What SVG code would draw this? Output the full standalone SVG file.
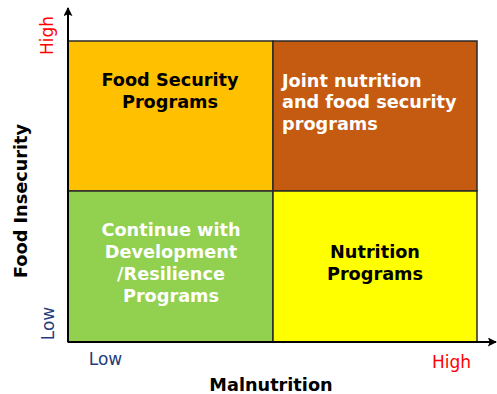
<svg xmlns="http://www.w3.org/2000/svg" width="497" height="394" viewBox="0 0 497 394">
  <style>
    .q { stroke: #2a2a2a; stroke-width: 1.5; }
    .t { font-family: "DejaVu Sans", Verdana, sans-serif; font-weight: bold; font-size: 17.7px; }
    .lbl { font-family: "DejaVu Sans", Verdana, sans-serif; font-size: 17px; }
    .axis { stroke: #000; stroke-width: 2; fill: none; }
  </style>
  <defs>
    <marker id="arr" viewBox="0 0 10 10" refX="9" refY="5" markerWidth="4.5" markerHeight="4.5" orient="auto" markerUnits="strokeWidth">
      <path d="M0,0 L10,5 L0,10 L2,5 Z" fill="#000"/>
    </marker>
  </defs>
  <rect width="497" height="394" fill="#fff"/>

  <g id="food-security">
    <rect class="q" x="68" y="41" width="205" height="150" fill="#FFC000"/>
    <text class="t" text-anchor="middle" fill="#000"><tspan x="170" y="86">Food Security</tspan><tspan x="170" y="107.5">Programs</tspan></text>
  </g>
  <g id="joint">
    <rect class="q" x="273" y="41" width="204" height="150" fill="#C55A11"/>
    <text class="t" fill="#fff"><tspan x="282" y="87">Joint nutrition</tspan><tspan x="282" y="108">and food security</tspan><tspan x="282" y="129.5">programs</tspan></text>
  </g>
  <g id="continue">
    <rect class="q" x="68" y="191" width="205" height="151" fill="#92D050"/>
    <text class="t" text-anchor="middle" fill="#fff"><tspan x="171" y="236">Continue with</tspan><tspan x="171" y="258">Development</tspan><tspan x="171" y="280">/Resilience</tspan><tspan x="171" y="301.5">Programs</tspan></text>
  </g>
  <g id="nutrition">
    <rect class="q" x="273" y="191" width="204" height="151" fill="#FFFF00"/>
    <text class="t" text-anchor="middle" fill="#000"><tspan x="375" y="258">Nutrition</tspan><tspan x="375" y="280">Programs</tspan></text>
  </g>

  <g id="connectors">
    <line class="axis" x1="68" y1="342" x2="68" y2="8" marker-end="url(#arr)"/>
    <line class="axis" x1="68" y1="342" x2="496" y2="342" marker-end="url(#arr)"/>
  </g>

  <g id="labels">
    <text class="t" text-anchor="middle" transform="translate(27,201) rotate(-90)">Food Insecurity</text>
    <text class="t" text-anchor="middle" x="271" y="391">Malnutrition</text>
    <text class="lbl" text-anchor="middle" fill="#FF0000" transform="translate(53,35.5) rotate(-90)">High</text>
    <text class="lbl" text-anchor="middle" fill="#1F3D7A" transform="translate(54,323.5) rotate(-90)">Low</text>
    <text class="lbl" text-anchor="middle" fill="#1F3D7A" x="105.5" y="365">Low</text>
    <text class="lbl" text-anchor="middle" fill="#FF0000" x="451.5" y="368">High</text>
  </g>
</svg>
